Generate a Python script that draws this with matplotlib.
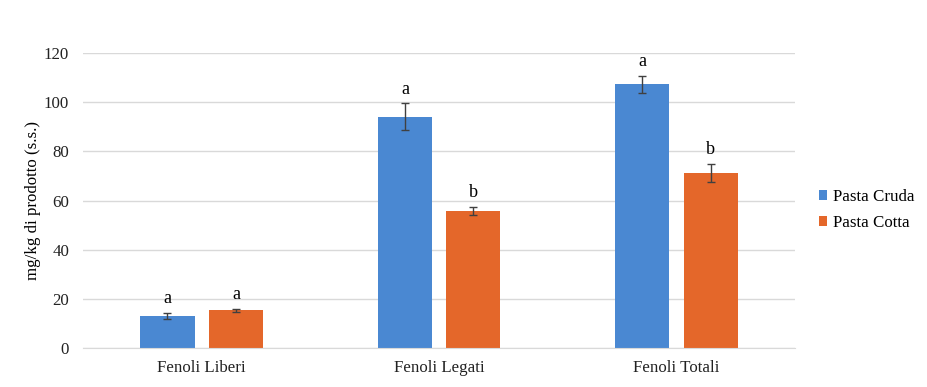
import numpy as np
import matplotlib
matplotlib.use("Agg")
import matplotlib.pyplot as plt

# Data
categories = ["Fenoli Liberi", "Fenoli Legati", "Fenoli Totali"]
cruda = [13.0, 94.0, 107.3]
cruda_err = [1.3, 5.5, 3.5]
cruda_lett = ["a", "a", "a"]
cotta = [15.3, 55.8, 71.3]
cotta_err = [0.5, 1.7, 3.7]
cotta_lett = ["a", "b", "b"]

plt.rcParams["font.family"] = ["Liberation Serif", "DejaVu Serif"]

fig = plt.figure(figsize=(9.28, 3.87), dpi=100)
ax = fig.add_axes([0.0894, 0.1008, 0.857 - 0.0894, 0.863 - 0.1008])

x = np.arange(len(categories))
w = 0.228
off = 0.144
blue = "#4a88d2"
orange = "#e4672a"

ax.bar(x - off, cruda, w, color=blue, label="Pasta Cruda", zorder=2)
ax.bar(x + off, cotta, w, color=orange, label="Pasta Cotta", zorder=2)
ax.errorbar(x - off, cruda, yerr=cruda_err, fmt="none", ecolor="#404040",
            elinewidth=1, capsize=3, capthick=1, zorder=3)
ax.errorbar(x + off, cotta, yerr=cotta_err, fmt="none", ecolor="#404040",
            elinewidth=1, capsize=3, capthick=1, zorder=3)

# significance letters
for i in range(len(categories)):
    ax.text(x[i] - off, cruda[i] + cruda_err[i] + 2.3, cruda_lett[i],
            ha="center", va="bottom", fontsize=13)
    ax.text(x[i] + off, cotta[i] + cotta_err[i] + 2.3, cotta_lett[i],
            ha="center", va="bottom", fontsize=13)

ax.set_xlim(-0.5, 2.5)
ax.set_ylim(0, 120)
ax.set_yticks(range(0, 121, 20))
ax.set_xticks(x)
ax.set_xticklabels(categories)
ax.tick_params(axis="both", length=0, labelsize=12.2, colors="#222222")
ax.tick_params(axis="y", pad=10)
ax.tick_params(axis="x", pad=9)
ax.grid(axis="y", color="#d9d9d9", linewidth=1, zorder=0)
ax.set_axisbelow(True)
for s in ["top", "right", "left"]:
    ax.spines[s].set_visible(False)
ax.spines["bottom"].set_color("#d9d9d9")

ax.set_ylabel("mg/kg di prodotto (s.s.)", fontsize=12.2, labelpad=2)

ax.legend(loc="center left", bbox_to_anchor=(1.0, 0.468), frameon=False,
          fontsize=12.2, handlelength=0.5, handleheight=0.5,
          handletextpad=0.35, labelspacing=0.6, borderaxespad=1.0)

fig.savefig("out.png", dpi=100)
